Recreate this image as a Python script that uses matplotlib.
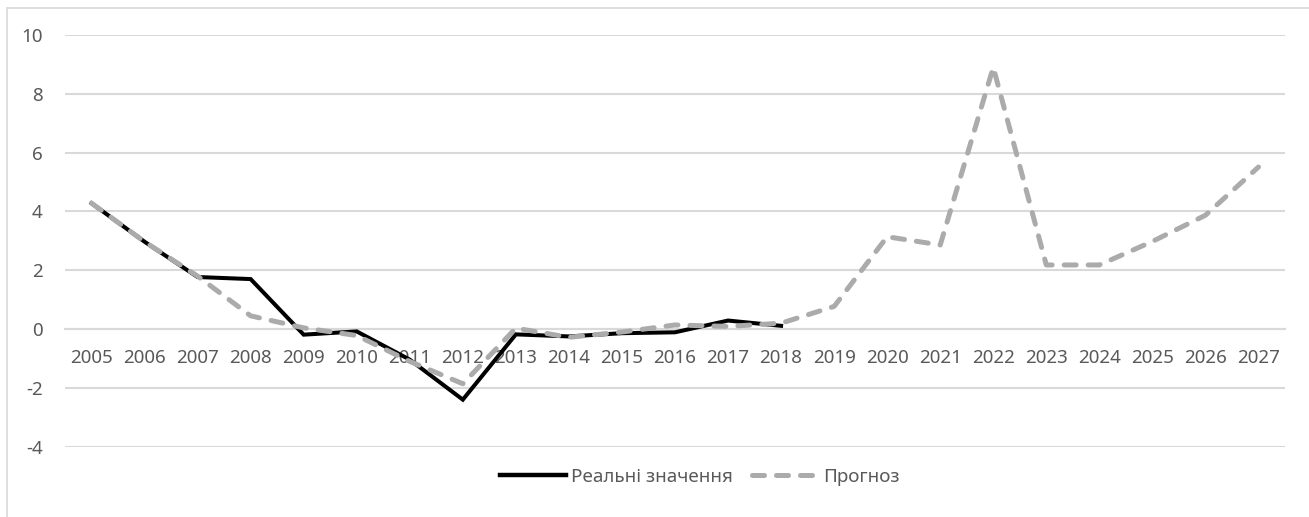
import matplotlib
matplotlib.use("Agg")
import matplotlib.pyplot as plt
from matplotlib.patches import Rectangle
from matplotlib.lines import Line2D
import numpy as np

years = [str(y) for y in range(2005, 2028)]
real_years = years[:14]
real_values = [4.28, 2.97, 1.77, 1.70, -0.19, -0.08, -1.04, -2.40, -0.18, -0.25, -0.14, -0.11, 0.29, 0.11]
forecast_values = [4.28, 2.97, 1.80, 0.45, 0.04, -0.22, -1.10, -1.86, 0.03, -0.28, -0.10, 0.14, 0.09, 0.20,
                   0.77, 3.14, 2.86, 8.90, 2.18, 2.18, 2.98, 3.87, 5.51]
y_ticks = [-4, -2, 0, 2, 4, 6, 8, 10]
legend_labels = ["Реальні значення", "Прогноз"]

plt.rcParams['font.family'] = ['Noto Sans', 'DejaVu Sans']
W, H = 1309, 517
fig = plt.figure(figsize=(W / 100, H / 100), dpi=100)
ax = fig.add_axes([65 / W, 1 - 446.7 / H, (1285 - 65) / W, (446.7 - 35) / H])

text_color = "#595959"
grid_color = "#D9D9D9"
dash_color = "#ABABAB"

x = np.arange(len(years))
ax.plot(x[:len(real_values)], real_values, color="black", lw=2.9, solid_joinstyle="miter", zorder=3)
ax.plot(x, forecast_values, color=dash_color, lw=3.6, dashes=(2.4, 2.4), dash_capstyle="round", zorder=4)

ax.set_xlim(-0.5, len(years) - 0.5)
ax.set_ylim(-4, 10)
ax.set_yticks(y_ticks)
ax.set_yticklabels([str(t) for t in y_ticks], color=text_color, fontsize=13.5)
ax.tick_params(axis="y", length=0, pad=16)
ax.yaxis.grid(True, color=grid_color, lw=1.5)
ax.set_axisbelow(True)

for s in ["top", "right", "left"]:
    ax.spines[s].set_visible(False)
ax.spines["bottom"].set_position(("data", 0))
ax.spines["bottom"].set_color(grid_color)
ax.spines["bottom"].set_linewidth(1.5)
ax.set_xticks(x)
ax.set_xticklabels(years, color=text_color, fontsize=13.5)
ax.tick_params(axis="x", length=0, pad=14)

fig.patches.append(Rectangle((7 / W, -0.1), 1.2, (1 - 8 / H) + 0.1, transform=fig.transFigure,
                             fill=False, edgecolor="#D9D9D9", lw=1.2))

handles = [Line2D([], [], color="black", lw=3.2),
           Line2D([], [], color=dash_color, lw=3.6, dashes=(2.4, 2.4), dash_capstyle="round")]
leg = fig.legend(handles, legend_labels, loc="center", bbox_to_anchor=(700 / W, 1 - 477 / H), ncol=2,
                 frameon=False, fontsize=13.5, handlelength=3.5, handletextpad=0.3, columnspacing=1.0,
                 labelcolor=text_color)

fig.savefig("out.png", dpi=100, facecolor="white")
